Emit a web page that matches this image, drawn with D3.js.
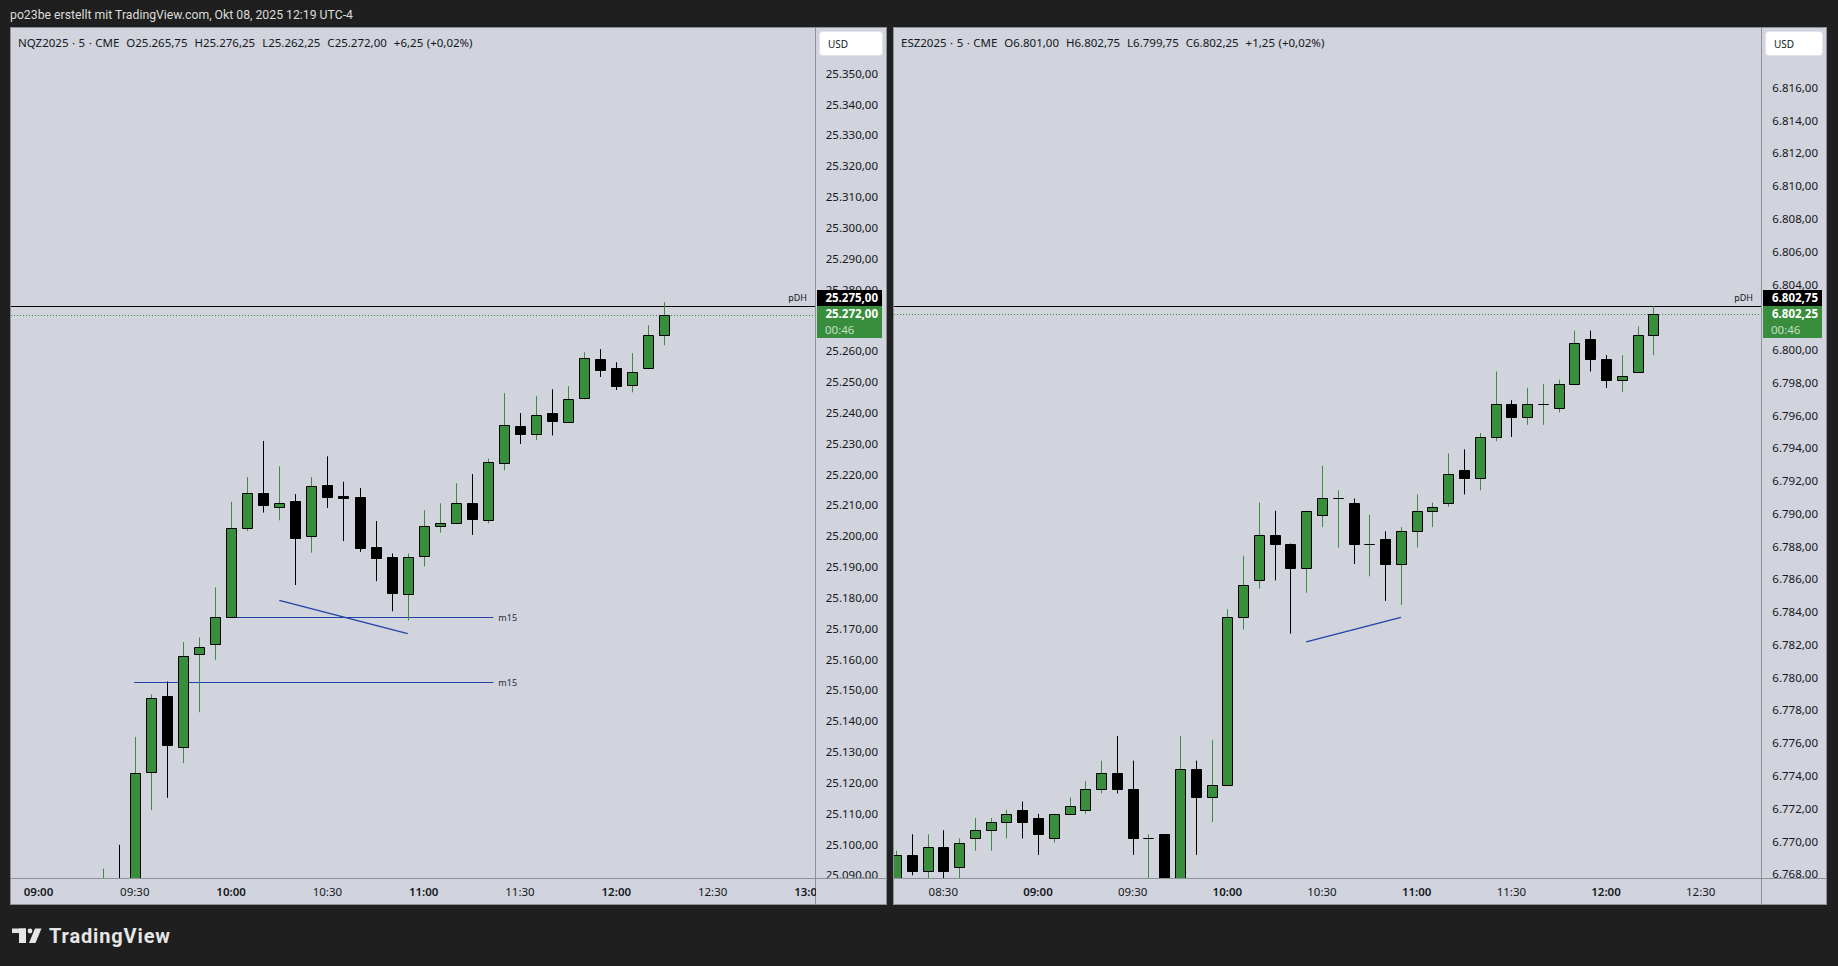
<!DOCTYPE html>
<html><head><meta charset="utf-8">
<script src="https://cdn.jsdelivr.net/npm/d3@7"></script>
<style>
html,body{margin:0;padding:0;background:#1f1f1f;overflow:hidden}
svg{display:block}
text{font-family:"Noto Sans",Roboto,sans-serif}
</style></head><body>
<svg id="c" width="1838" height="966"></svg>
<script>
// ---------------- DATA ----------------
const headerText = "po23be erstellt mit TradingView.com, Okt 08, 2025 12:19 UTC-4";

// NQZ2025 5-min candles
const nqTime = ["09:20","09:25","09:30","09:35","09:40","09:45","09:50","09:55","10:00","10:05","10:10","10:15","10:20","10:25","10:30","10:35","10:40","10:45","10:50","10:55","11:00","11:05","11:10","11:15","11:20","11:25","11:30","11:35","11:40","11:45","11:50","11:55","12:00","12:05","12:10","12:15"];
const nqOpen  = [25078.00,25087.00,25080.00,25123.75,25148.50,25132.00,25162.00,25165.50,25174.25,25203.00,25214.50,25209.75,25211.75,25200.50,25217.00,25213.50,25213.00,25196.75,25193.50,25181.50,25194.00,25203.75,25204.75,25211.00,25205.75,25224.00,25236.00,25233.50,25240.25,25237.50,25245.00,25257.75,25254.75,25249.50,25254.75,25265.75];
const nqHigh  = [25092.50,25100.25,25135.25,25149.00,25153.25,25166.00,25167.50,25183.75,25211.50,25219.50,25231.25,25223.00,25214.00,25219.50,25226.25,25218.00,25216.00,25205.25,25194.75,25194.75,25208.75,25211.00,25217.50,25220.50,25225.50,25246.75,25240.25,25245.75,25248.00,25249.00,25260.00,25261.00,25256.75,25259.75,25268.75,25276.25];
const nqLow   = [25070.00,25075.00,25078.00,25111.50,25115.50,25126.75,25143.25,25160.25,25174.00,25202.00,25208.00,25205.50,25184.50,25195.00,25209.50,25198.75,25195.25,25185.75,25176.00,25173.00,25190.50,25201.50,25204.50,25200.75,25204.50,25221.75,25230.25,25231.50,25233.00,25237.25,25244.75,25252.00,25247.75,25247.00,25254.50,25262.25];
const nqClose = [25087.00,25080.00,25123.50,25148.00,25132.50,25161.50,25164.25,25174.25,25203.00,25214.25,25210.50,25211.25,25199.75,25216.75,25213.00,25212.75,25196.50,25193.25,25182.00,25193.75,25203.75,25204.75,25211.00,25206.00,25224.25,25236.25,25233.50,25239.75,25237.75,25244.75,25258.00,25254.25,25249.00,25253.75,25265.75,25272.00];
const nqPriceTicks = [25090,25100,25110,25120,25130,25140,25150,25160,25170,25180,25190,25200,25210,25220,25230,25240,25250,25260,25270,25280,25290,25300,25310,25320,25330,25340,25350];
const nqTimeTicks = ["09:00","09:30","10:00","10:30","11:00","11:30","12:00","12:30","13:00"];
const nqPDH = 25275.00;
const nqLevels = [ // horizontal m15 rays: [from, to, price]
  ["10:01.75","11:21.7",25174.25],
  ["09:29.8","11:21.7",25153.00]
];
const nqTrend = [["10:15",25179.50],["10:55",25168.75]];

// ESZ2025 5-min candles
const esTime = ["08:15","08:20","08:25","08:30","08:35","08:40","08:45","08:50","08:55","09:00","09:05","09:10","09:15","09:20","09:25","09:30","09:35","09:40","09:45","09:50","09:55","10:00","10:05","10:10","10:15","10:20","10:25","10:30","10:35","10:40","10:45","10:50","10:55","11:00","11:05","11:10","11:15","11:20","11:25","11:30","11:35","11:40","11:45","11:50","11:55","12:00","12:05","12:10","12:15"];
const esOpen  = [6767.50,6769.25,6768.25,6769.75,6768.50,6770.25,6770.75,6771.25,6772.00,6771.50,6770.25,6771.75,6772.00,6773.25,6774.25,6773.25,6770.25,6770.50,6765.50,6774.50,6772.75,6773.50,6783.75,6786.00,6788.75,6788.25,6786.75,6790.00,6791.00,6790.75,6788.25,6788.50,6787.00,6789.00,6790.25,6790.75,6792.75,6792.25,6794.75,6796.75,6796.00,6796.75,6796.50,6798.00,6800.75,6799.50,6798.25,6798.75,6801.00];
const esHigh  = [6769.50,6770.50,6770.50,6770.75,6770.25,6771.50,6771.50,6772.00,6772.50,6771.75,6771.75,6772.75,6773.75,6775.00,6776.50,6775.00,6770.50,6770.50,6776.50,6775.00,6776.25,6784.25,6787.50,6790.75,6790.25,6788.25,6790.25,6793.00,6791.50,6791.00,6790.00,6789.00,6789.25,6791.25,6790.75,6793.75,6794.00,6795.00,6798.75,6797.00,6797.75,6798.00,6798.25,6801.25,6801.25,6799.75,6799.75,6801.50,6802.75];
const esLow   = [6767.00,6768.00,6767.00,6767.25,6767.25,6769.50,6769.50,6770.25,6770.25,6769.25,6770.00,6771.75,6771.75,6773.00,6773.00,6769.25,6766.00,6764.00,6765.00,6769.25,6771.25,6773.50,6783.00,6785.50,6786.00,6782.75,6785.25,6789.25,6788.00,6787.00,6786.25,6784.75,6784.50,6788.00,6789.25,6790.50,6791.25,6791.50,6794.50,6794.75,6795.50,6795.50,6796.25,6798.00,6798.75,6797.75,6797.50,6798.75,6799.75];
const esClose = [6769.25,6768.25,6769.75,6768.25,6770.00,6770.75,6771.25,6771.75,6771.25,6770.50,6771.75,6772.25,6773.25,6774.25,6773.25,6770.25,6770.25,6765.00,6774.50,6772.75,6773.50,6783.75,6785.75,6788.75,6788.25,6786.75,6790.25,6791.00,6791.00,6788.25,6788.25,6787.00,6789.00,6790.25,6790.50,6792.50,6792.25,6794.75,6796.75,6796.00,6796.75,6796.75,6798.00,6800.50,6799.50,6798.25,6798.50,6801.00,6802.25];
const esPriceTicks = [6768,6770,6772,6774,6776,6778,6780,6782,6784,6786,6788,6790,6792,6794,6796,6798,6800,6802,6804,6806,6808,6810,6812,6814,6816];
const esTimeTicks = ["08:30","09:00","09:30","10:00","10:30","11:00","11:30","12:00","12:30"];
const esPDH = 6802.75;
const esLevels = [];
const esTrend = [["10:25",6782.25],["10:55",6783.75]];

const countdown = "00:46";

// ---------------- DRAWING ----------------
const svg = d3.select("#c");
const GREEN = "#388e3c", PANEL = "#d1d4dc", BORDER = "#8e9199", TXT = "#131722", BLUE = "#2342a8";
const de = d3.formatLocale({decimal:",", thousands:".", grouping:[3], currency:["","$"]});
const fmtP = de.format(",.2f");
const fmtC = de.format("+,.2f");
const fmtPct = de.format("+.2%");
const toMin = s => { const [h,m] = s.split(":"); return (+h)*60 + (+m); };

svg.append("rect").attr("width",1838).attr("height",966).attr("fill","#1f1f1f");
svg.append("text").attr("x",10).attr("y",15).attr("dy","0.35em")
  .style("font-family","Roboto,sans-serif").style("font-size","12.25px").attr("fill","#dcdcdc").text(headerText);

const TOP = 27, PB = 878, BOT = 905;

const panels = [
  {id:"nq", sym:"NQZ2025 · 5 · CME", left:10, right:887, axisX:816,
   times:nqTime, O:nqOpen, H:nqHigh, L:nqLow, C:nqClose,
   pTicks:nqPriceTicks, tTicks:nqTimeTicks, pdh:nqPDH, levels:nqLevels, trend:nqTrend,
   x: d3.scaleLinear().domain([toMin("09:00"), toMin("13:00")]).range([38.5, 808.9]),
   y: d3.scaleLinear().domain([25275, 25090]).range([306, 876.4])},
  {id:"es", sym:"ESZ2025 · 5 · CME", left:893, right:1827, axisX:1762,
   times:esTime, O:esOpen, H:esHigh, L:esLow, C:esClose,
   pTicks:esPriceTicks, tTicks:esTimeTicks, pdh:esPDH, levels:esLevels, trend:esTrend,
   x: d3.scaleLinear().domain([toMin("08:30"), toMin("12:30")]).range([943.3, 1700.7]),
   y: d3.scaleLinear().domain([6802.75, 6768]).range([306, 875.3])}
];

const defs = svg.append("defs");

panels.forEach(p => {
  const g = svg.append("g");
  const plotL = p.left + 1, plotR = p.axisX;
  g.append("rect").attr("x",p.left+0.5).attr("y",TOP+0.5).attr("width",p.right-p.left-1).attr("height",BOT-TOP-1)
    .attr("fill",PANEL).attr("stroke",BORDER);

  defs.append("clipPath").attr("id","plot-"+p.id).append("rect")
    .attr("x",plotL).attr("y",TOP+1).attr("width",plotR-plotL).attr("height",PB-TOP-1);
  defs.append("clipPath").attr("id","tax-"+p.id).append("rect")
    .attr("x",plotL).attr("y",PB).attr("width",plotR-plotL).attr("height",BOT-PB);
  defs.append("clipPath").attr("id","pax-"+p.id).append("rect")
    .attr("x",plotR).attr("y",TOP).attr("width",p.right-plotR).attr("height",PB-TOP);

  const plot = g.append("g").attr("clip-path",`url(#plot-${p.id})`);
  const n = p.C.length;
  const last = p.C[n-1], prev = p.C[n-2];
  const snap = v => Math.round(v) + 0.5;

  plot.append("line").attr("x1",plotL).attr("x2",plotR)
    .attr("y1",snap(p.y(p.pdh))).attr("y2",snap(p.y(p.pdh))).attr("stroke","#000").attr("stroke-width",1);
  plot.append("line").attr("x1",plotL).attr("x2",plotR)
    .attr("y1",snap(p.y(last))).attr("y2",snap(p.y(last)))
    .attr("stroke",GREEN).attr("stroke-width",1).attr("stroke-dasharray","1,2");

  p.levels.forEach(l => {
    const xa = p.x(toMin(l[0])), xb = p.x(toMin(l[1])), yy = snap(p.y(l[2]));
    plot.append("line").attr("x1",xa).attr("x2",xb).attr("y1",yy).attr("y2",yy)
      .attr("stroke",BLUE).attr("stroke-width",1.2);
    plot.append("text").attr("x",xb+5).attr("y",yy).attr("dy","0.35em")
      .style("font-size","9px").attr("fill","#2a2e39").text("m15");
  });
  if (p.trend.length) {
    plot.append("line")
      .attr("x1",p.x(toMin(p.trend[0][0]))).attr("y1",p.y(p.trend[0][1]))
      .attr("x2",p.x(toMin(p.trend[1][0]))).attr("y2",p.y(p.trend[1][1]))
      .attr("stroke",BLUE).attr("stroke-width",1.3);
  }

  const sp = p.x(toMin("10:05")) - p.x(toMin("10:00"));
  const bw = Math.round(sp*0.64);
  const candles = d3.range(n).map(i => ({t:toMin(p.times[i]), o:p.O[i], h:p.H[i], l:p.L[i], c:p.C[i]}));
  const cg = plot.selectAll("g.c").data(candles).join("g").attr("class","c");
  cg.append("line")
    .attr("x1",d => snap(p.x(d.t))).attr("x2",d => snap(p.x(d.t)))
    .attr("y1",d => p.y(d.h)).attr("y2",d => p.y(d.l))
    .attr("stroke",d => d.c >= d.o ? GREEN : "#000").attr("stroke-width",1);
  cg.append("path")
    .attr("d",d => {
      const cx = snap(p.x(d.t));
      const x0 = cx - Math.floor(bw/2), x1 = x0 + bw;
      const y0 = Math.round(p.y(Math.max(d.o,d.c))) + 0.5, y1 = Math.round(p.y(Math.min(d.o,d.c))) + 0.5;
      return `M${x0},${y0}H${x1}V${y1}H${x0}Z`;
    })
    .attr("fill",d => d.c >= d.o ? GREEN : "#000").attr("stroke","#000").attr("stroke-width",1);

  g.append("line").attr("x1",snap(plotR)-1).attr("x2",snap(plotR)-1).attr("y1",TOP).attr("y2",BOT)
    .attr("stroke",BORDER);
  g.append("line").attr("x1",plotL).attr("x2",p.right).attr("y1",PB+0.5).attr("y2",PB+0.5).attr("stroke",BORDER);

  const pax = g.append("g").attr("clip-path",`url(#pax-${p.id})`);
  pax.selectAll("text").data(p.pTicks).join("text")
    .attr("x",p.right-9).attr("y",d => p.y(d)-1).attr("dy","0.35em").attr("text-anchor","end")
    .style("font-size","11.5px").attr("fill",TXT).text(d => fmtP(d));

  const tax = g.append("g").attr("clip-path",`url(#tax-${p.id})`);
  tax.selectAll("text").data(p.tTicks).join("text")
    .attr("x",d => p.x(toMin(d))).attr("y",892).attr("dy","0.35em").attr("text-anchor","middle")
    .style("font-size","11.5px").style("font-weight",d => d.endsWith(":00") ? 600 : 400)
    .attr("fill",TXT).text(d => d);

  const bx = plotR + 1, bwid = p.right - plotR - 6;
  const yP = p.y(p.pdh);
  g.append("rect").attr("x",bx).attr("y",yP-16).attr("width",bwid).attr("height",16).attr("fill","#000");
  g.append("text").attr("x",p.right-9).attr("y",yP-8).attr("dy","0.35em").attr("text-anchor","end")
    .style("font-size","11.5px").style("font-weight",700).attr("fill","#fff").text(fmtP(p.pdh));
  g.append("rect").attr("x",bx).attr("y",yP).attr("width",bwid).attr("height",32).attr("fill",GREEN);
  g.append("text").attr("x",p.right-9).attr("y",yP+8).attr("dy","0.35em").attr("text-anchor","end")
    .style("font-size","11.5px").style("font-weight",700).attr("fill","#fff").text(fmtP(last));
  g.append("text").attr("x",bx+8).attr("y",yP+24).attr("dy","0.35em")
    .style("font-size","11.5px").attr("fill","rgba(255,255,255,0.72)").text(countdown);
  g.append("text").attr("x",plotR-9).attr("y",yP-8).attr("dy","0.35em").attr("text-anchor","end")
    .style("font-size","9px").attr("fill",TXT).text("pDH");

  g.append("rect").attr("x",plotR+3.5).attr("y",31.5).attr("width",p.right-plotR-8).attr("height",24).attr("rx",3)
    .attr("fill","#fff").attr("stroke","#e0e3eb");
  g.append("text").attr("x",plotR+12).attr("y",44).attr("dy","0.35em")
    .style("font-size","10px").attr("fill",TXT).text("USD");

  const o = p.O[n-1], h = p.H[n-1], l = p.L[n-1], c = last;
  const legend = `${p.sym}  O${fmtP(o)}  H${fmtP(h)}  L${fmtP(l)}  C${fmtP(c)}  ${fmtC(c-prev)} (${fmtPct((c-prev)/prev)})`;
  g.append("text").attr("x",p.left+8).attr("y",43).attr("dy","0.35em")
    .style("font-size","11.5px").style("word-spacing","0.5px").style("white-space","pre").attr("fill",TXT).text(legend);
});

// TradingView logo
const lg = svg.append("g").attr("fill","#e6e6e6");
lg.append("rect").attr("x",12).attr("y",928.5).attr("width",14).attr("height",4.5);
lg.append("rect").attr("x",19).attr("y",928.5).attr("width",7).attr("height",14.5);
lg.append("circle").attr("cx",30).attr("cy",931).attr("r",2.4);
lg.append("path").attr("d","M35,928.5H41.5L35.5,943H29Z");
lg.append("text").attr("x",49).attr("y",936).attr("dy","0.35em").attr("textLength",121)
  .style("font-family","Roboto,sans-serif").style("font-size","20px").style("font-weight",700).text("TradingView");
</script>
</body></html>
